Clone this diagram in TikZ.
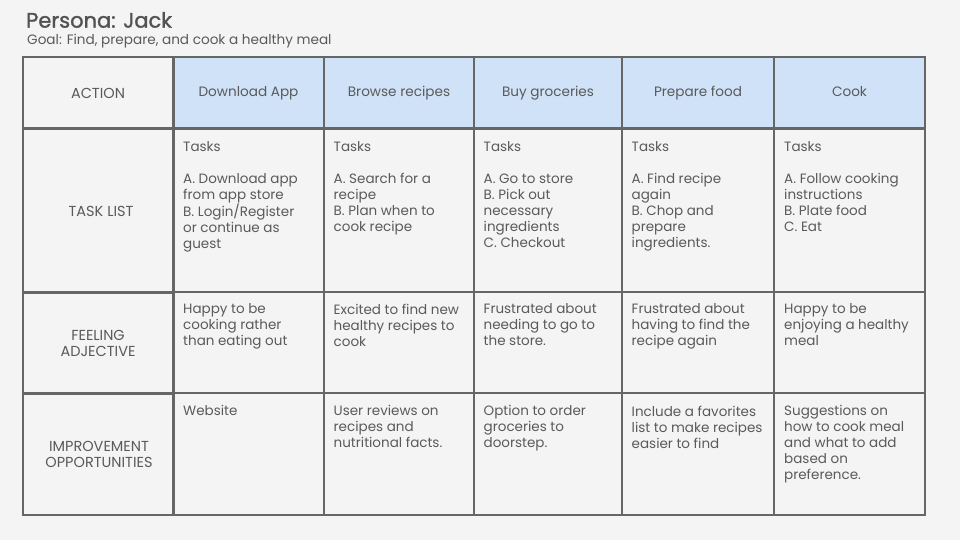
\documentclass[tikz,border=0pt]{standalone}
\usepackage{fontspec}
\setmainfont{Poppins}
\newfontfamily\titlefont[FakeBold=1.3]{Poppins}
\usetikzlibrary{positioning}
\definecolor{pagebg}{HTML}{F4F4F4}
\definecolor{headblue}{HTML}{CFE2F8}
\definecolor{gridgray}{HTML}{666666}
\definecolor{textgray}{HTML}{5A5A5A}
\tikzstyle{every node}=[anchor=west,inner sep=0pt,text=textgray]
\tikzstyle{head}=[anchor=base,align=center,font=\fontsize{13.6}{16}\selectfont]
\tikzstyle{rowlabel}=[anchor=center,align=center,font=\fontsize{14.5}{16}\selectfont]
\tikzstyle{cell}=[anchor=north west,align=left,font=\fontsize{13.5}{16}\selectfont]
\tikzstyle{thinline}=[draw=gridgray,line width=1.1pt]
\tikzstyle{thickline}=[draw=gridgray,line width=3pt]

\begin{document}
\begin{tikzpicture}[x=1pt,y=-1pt]
  \fill[pagebg] (0,0) rectangle (960,540);
  \useasboundingbox (0,0) rectangle (960,540);
  \fill[headblue] (173,57) rectangle (925,129);
  % title
  \node[font=\titlefont\fontsize{21}{24}\selectfont,text=black!68] (title) at (26,20) {Persona: Jack};
  \node[font=\fontsize{13.6}{16}\selectfont] (goal) at (27,41) {Goal: Find, prepare, and cook a healthy meal};
  % grid
  \draw[thinline] (23,57) rectangle (925,515);
  \foreach \x in {324,474,622,774}
    \draw[thinline] (\x,57) -- (\x,515);
  \foreach \y in {292,393}
    \draw[thinline] (173,\y) -- (925,\y);
  \draw[thickline] (173,57) -- (173,515);
  \draw[thickline] (23,129) -- (925,129);
  \foreach \y in {292,393}
    \draw[thickline] (23,\y) -- (173,\y);
  % row labels
  \node[rowlabel] (action) at (98,93) {ACTION};
  \node[rowlabel] (tasklist) at (101,211) {TASK LIST};
  \node[rowlabel] (feeling) at (98,343) {FEELING\\ADJECTIVE};
  \node[rowlabel] (improve) at (99,454) {IMPROVEMENT\\OPPORTUNITIES};
  % column heads
  \foreach \x/\t [count=\i] in {248.5/Download App,399/Browse recipes,548/Buy groceries,698/Prepare food,849.5/Cook}
    \node[head] (step\i) at (\x,96.5) {\t};
  % tasks
  \node[cell] (task1) at (183,141.5) {Tasks\\[16pt]A. Download app\\from app store\\B. Login/Register\\or continue as\\guest};
  \node[cell] (task2) at (333.5,141.5) {Tasks\\[16pt]A. Search for a\\recipe\\B. Plan when to\\cook recipe};
  \node[cell] (task3) at (483.5,141.5) {Tasks\\[16pt]A. Go to store\\B. Pick out\\necessary\\ingredients\\C. Checkout};
  \node[cell] (task4) at (631.5,141.5) {Tasks\\[16pt]A. Find recipe\\again\\B. Chop and\\prepare\\ingredients.};
  \node[cell] (task5) at (784,141.5) {Tasks\\[16pt]A. Follow cooking\\instructions\\B. Plate food\\C. Eat};
  % feelings
  \node[cell] (feel1) at (183,303.5) {Happy to be\\cooking rather\\than eating out};
  \node[cell] (feel2) at (333.5,303.5) {Excited to find new\\healthy recipes to\\cook};
  \node[cell] (feel3) at (483.5,303.5) {Frustrated about\\needing to go to\\the store.};
  \node[cell] (feel4) at (631.5,303.5) {Frustrated about\\having to find the\\recipe again};
  \node[cell] (feel5) at (784,303.5) {Happy to be\\enjoying a healthy\\meal};
  % improvements
  \node[cell] (impr1) at (183,405.5) {Website};
  \node[cell] (impr2) at (333.5,405.5) {User reviews on\\recipes and\\nutritional facts.};
  \node[cell] (impr3) at (483.5,405.5) {Option to order\\groceries to\\doorstep.};
  \node[cell] (impr4) at (631.5,405.5) {Include a favorites\\list to make recipes\\easier to find};
  \node[cell] (impr5) at (784,405.5) {Suggestions on\\how to cook meal\\and what to add\\based on\\preference.};
\end{tikzpicture}
\end{document}
